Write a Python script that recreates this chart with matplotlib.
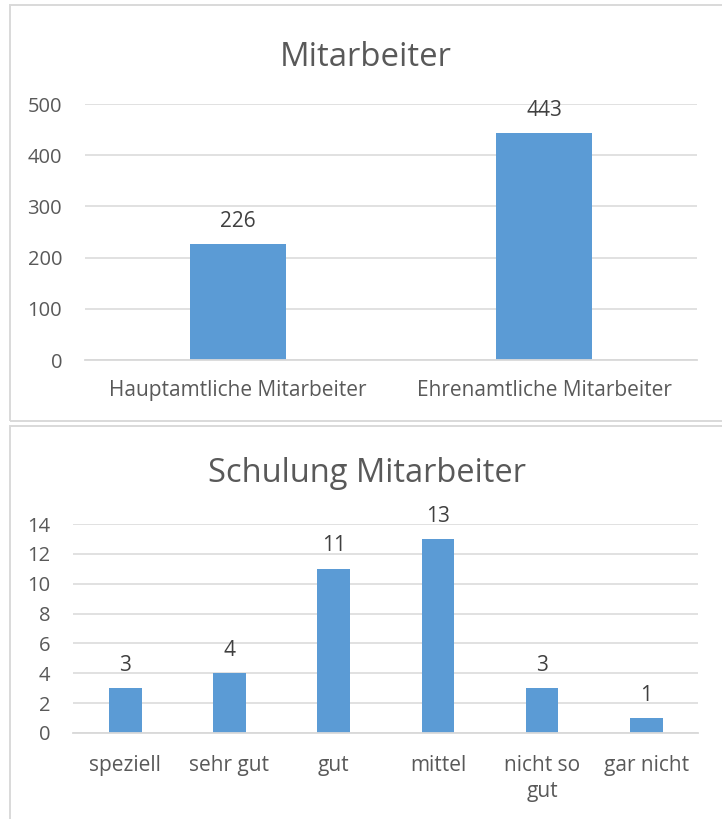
import matplotlib.pyplot as plt
from matplotlib.patches import Rectangle

# data
staff_labels = ['Hauptamtliche Mitarbeiter', 'Ehrenamtliche Mitarbeiter']
staff_counts = [226, 443]
training_labels = ['speziell', 'sehr gut', 'gut', 'mittel', 'nicht so\ngut', 'gar nicht']
training_counts = [3, 4, 11, 13, 3, 1]

BAR = '#5b9bd5'
GRID = '#d9d9d9'
TICK = '#595959'
LABEL = '#404040'

plt.rcParams['font.family'] = ['Open Sans', 'DejaVu Sans']

W, H = 722, 819
fig = plt.figure(figsize=(W / 100, H / 100), dpi=100)


def box(x0, y0, x1, y1):
    # pixel coords from top-left
    return [x0 / W, 1 - y1 / H, (x1 - x0) / W, (y1 - y0) / H]


# panel borders (right/bottom cut off in the screenshot)
for (x0, y0, x1, y1) in [(9.5, 5.5, 740, 421.5), (9.5, 426, 740, 840)]:
    fig.add_artist(Rectangle((x0 / W, 1 - y1 / H), (x1 - x0) / W, (y1 - y0) / H,
                             transform=fig.transFigure, fill=False,
                             edgecolor=GRID, linewidth=1.4, clip_on=False))


def style(ax, ymax, step, xpad):
    ax.set_ylim(0, ymax)
    ax.set_yticks(range(0, ymax + 1, step))
    ax.grid(axis='y', color=GRID, linewidth=1.1)
    ax.set_axisbelow(True)
    for s in ['top', 'left', 'right']:
        ax.spines[s].set_visible(False)
    ax.spines['bottom'].set_color(GRID)
    ax.spines['bottom'].set_linewidth(1.3)
    ax.tick_params(axis='y', length=0, pad=16.5, labelsize=14.5, labelcolor=TICK)
    ax.tick_params(axis='x', length=0, pad=xpad, labelsize=15, labelcolor=TICK)


# top chart
ax1 = fig.add_axes(box(85, 104, 697, 360))
x1 = range(len(staff_counts))
ax1.bar(x1, staff_counts, width=0.314, color=BAR)
ax1.set_xlim(-0.5, len(staff_counts) - 0.5)
style(ax1, 500, 100, 14.5)
ax1.set_xticks(list(x1))
ax1.set_xticklabels(staff_labels)
for i, v in enumerate(staff_counts):
    ax1.annotate(str(v), (i, v), xytext=(0, 12.5), textcoords='offset points',
                 ha='center', va='baseline', fontsize=15, color=LABEL)
fig.text(366 / W, 1 - 66 / H, 'Mitarbeiter', ha='center', va='baseline',
         fontsize=23.7, color=TICK)

# bottom chart
ax2 = fig.add_axes(box(73.2, 524, 698.4, 733))
x2 = range(len(training_counts))
ax2.bar(x2, training_counts, width=0.314, color=BAR)
ax2.set_xlim(-0.5, len(training_counts) - 0.5)
style(ax2, 14, 2, 16)
ax2.set_xticks(list(x2))
ax2.set_xticklabels(training_labels, linespacing=1.3)
for i, v in enumerate(training_counts):
    ax2.annotate(str(v), (i, v), xytext=(0, 12.5), textcoords='offset points',
                 ha='center', va='baseline', fontsize=15, color=LABEL)
fig.text(367 / W, 1 - 482 / H, 'Schulung Mitarbeiter', ha='center', va='baseline',
         fontsize=23.5, color=TICK)

fig.savefig('out.png', dpi=100)
